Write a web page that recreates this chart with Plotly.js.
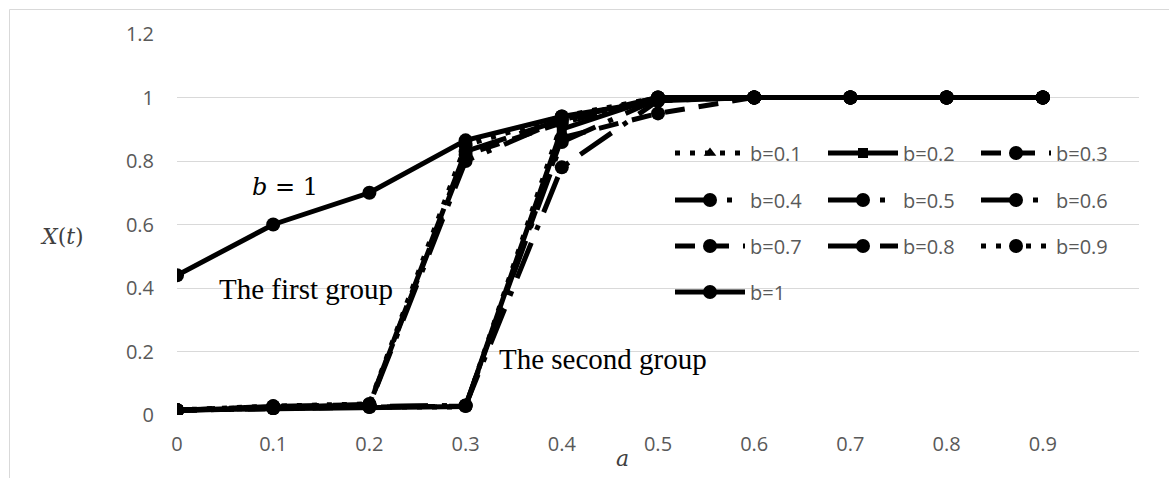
<!DOCTYPE html>
<html>
<head>
<meta charset="utf-8">
<script src="https://cdn.plot.ly/plotly-3.0.1.min.js"></script>
<style>html,body{margin:0;padding:0;background:#fff;}#chart{width:1169px;height:478px;}</style>
</head>
<body>
<div id="chart"></div>
<script>
const aVals = [0, 0.1, 0.2, 0.3, 0.4, 0.5, 0.6, 0.7, 0.8, 0.9];
const aTickText = ['0', '0.1', '0.2', '0.3', '0.4', '0.5', '0.6', '0.7', '0.8', '0.9'];
const yTickVals = [0, 0.2, 0.4, 0.6, 0.8, 1, 1.2];
const seriesNames = ['b=0.1', 'b=0.2', 'b=0.3', 'b=0.4', 'b=0.5', 'b=0.6', 'b=0.7', 'b=0.8', 'b=0.9', 'b=1'];
const b01 = [0.015, 0.022, 0.025, 0.025, 0.92, 1.0, 1, 1, 1, 1];
const b02 = [0.016, 0.020, 0.024, 0.027, 0.90, 1.0, 1, 1, 1, 1];
const b03 = [0.015, 0.021, 0.025, 0.028, 0.873, 0.95, 1, 1, 1, 1];
const b04 = [0.015, 0.022, 0.026, 0.030, 0.78, 0.99, 1, 1, 1, 1];
const b05 = [0.015, 0.023, 0.027, 0.030, 0.86, 0.995, 1, 1, 1, 1];
const b06 = [0.015, 0.025, 0.030, 0.80, 0.93, 1.0, 1, 1, 1, 1];
const b07 = [0.015, 0.025, 0.032, 0.82, 0.92, 0.995, 1, 1, 1, 1];
const b08 = [0.015, 0.027, 0.033, 0.83, 0.93, 1.0, 1, 1, 1, 1];
const b09 = [0.016, 0.028, 0.035, 0.85, 0.94, 1.0, 1, 1, 1, 1];
const b10 = [0.44, 0.60, 0.70, 0.865, 0.94, 0.99, 1, 1, 1, 1];

const seriesValues = [b01, b02, b03, b04, b05, b06, b07, b08, b09, b10];
const W = 5;
const DOT = W + 'px,' + (2 * W) + 'px';
const DASH = '20px,14px';
const LDD = '38px,14px,' + W + 'px,14px';
const LDASH = '38px,14px';
const dashes = [DOT, 'solid', DASH, LDD, LDD, LDD, DASH, LDASH, DOT, 'solid'];
const symbols = ['triangle-up', 'square', 'circle', 'circle', 'circle', 'circle', 'circle', 'circle', 'circle', 'circle'];
const sizes = [11, 10, 14, 14, 14, 14, 14, 14, 14, 14];
const legendIds = ['legend', 'legend', 'legend', 'legend2', 'legend2', 'legend2', 'legend3', 'legend3', 'legend3', 'legend4'];

const traces = seriesValues.map((vals, i) => ({
  type: 'scatter',
  mode: 'lines+markers',
  x: aVals,
  y: vals,
  name: seriesNames[i],
  legend: legendIds[i],
  line: {color: '#000000', width: W, dash: dashes[i]},
  marker: {color: '#000000', size: sizes[i], symbol: symbols[i], line: {width: 0}},
  hoverinfo: 'x+y+name'
}));

const plotL = 177, plotR = 1139, plotT = 34, plotB = 415;
const pw = plotR - plotL, ph = plotB - plotT;
const px = v => (v - plotL) / pw;
const py = v => (plotB - v) / ph;

function legendAt(xpx, ypx) {
  return {
    orientation: 'h',
    x: px(xpx), y: py(ypx), xanchor: 'left', yanchor: 'middle',
    bgcolor: 'rgba(0,0,0,0)', borderwidth: 0,
    font: {family: 'Open Sans, sans-serif', size: 20, color: '#595959'},
    itemwidth: 70,
    entrywidth: 68, entrywidthmode: 'pixels',
    tracegroupgap: 0,
    traceorder: 'normal'
  };
}

const serif = 'DejaVu Serif, serif';
const times = 'Liberation Serif, Times New Roman, serif';

const layout = {
  width: 1169, height: 478,
  margin: {l: plotL, r: 1169 - plotR, t: plotT, b: 478 - plotB, pad: 0},
  paper_bgcolor: '#ffffff', plot_bgcolor: '#ffffff',
  showlegend: true,
  xaxis: {
    range: [0, 1.0], tickvals: aVals, ticktext: aTickText,
    showgrid: false, zeroline: false, showline: false, ticks: '',
    tickfont: {family: 'Open Sans, sans-serif', size: 20, color: '#595959'},
    ticklabelstandoff: 15, fixedrange: true
  },
  yaxis: {
    range: [0, 1.2], tickvals: yTickVals,
    showgrid: true, gridcolor: '#d9d9d9', gridwidth: 1,
    zeroline: false, showline: false, ticks: '',
    tickfont: {family: 'Open Sans, sans-serif', size: 20, color: '#595959'},
    ticklabelstandoff: 22, fixedrange: true
  },
  legend: legendAt(670, 153),
  legend2: legendAt(670, 200),
  legend3: legendAt(670, 246),
  legend4: legendAt(670, 292),
  shapes: [{
    type: 'rect', xref: 'paper', yref: 'paper', layer: 'below',
    x0: px(9.5), x1: px(1300), y0: py(600), y1: py(9.5),
    line: {color: '#d9d9d9', width: 1}, fillcolor: 'rgba(0,0,0,0)'
  }],
  annotations: [
    {xref: 'paper', yref: 'paper', x: px(62), y: py(236), xanchor: 'center', yanchor: 'middle', showarrow: false,
     text: '<i>X</i>(<i>t</i>)', font: {family: serif, size: 22, color: '#404040'}},
    {xref: 'paper', yref: 'paper', x: px(622), y: py(458), xanchor: 'center', yanchor: 'middle', showarrow: false,
     text: '<i>a</i>', font: {family: serif, size: 22, color: '#404040'}},
    {xref: 'paper', yref: 'paper', x: px(285), y: py(187), xanchor: 'center', yanchor: 'middle', showarrow: false,
     text: '<i>b</i> = 1', font: {family: serif, size: 24, color: '#000000'}},
    {xref: 'paper', yref: 'paper', x: px(217), y: py(289), xanchor: 'left', yanchor: 'middle', showarrow: false,
     text: 'The first group', font: {family: times, size: 29, color: '#000000'}},
    {xref: 'paper', yref: 'paper', x: px(497), y: py(359), xanchor: 'left', yanchor: 'middle', showarrow: false,
     text: 'The second group', font: {family: times, size: 29, color: '#000000'}}
  ]
};

Plotly.newPlot('chart', traces, layout, {displayModeBar: false, staticPlot: true});
</script>
</body>
</html>
